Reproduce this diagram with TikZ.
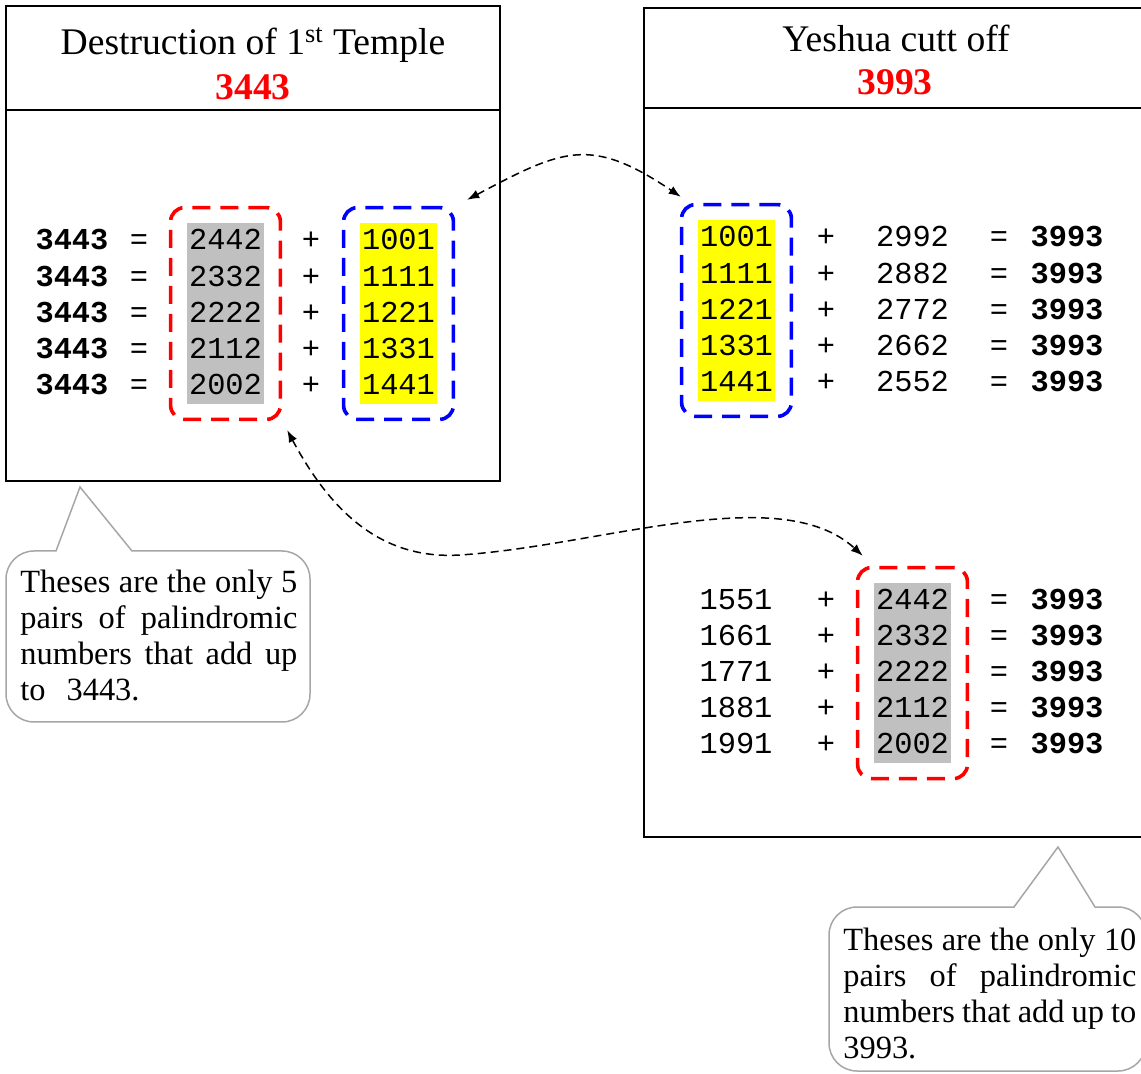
\documentclass[tikz,border=0pt]{standalone}
\usepackage{fontspec}
\setmainfont{Liberation Serif}
\setmonofont{Liberation Mono}
\usetikzlibrary{arrows.meta,fit}
\definecolor{hlgray}{HTML}{C0C0C0}
\definecolor{hlyellow}{HTML}{FFFF00}
\definecolor{calloutgray}{HTML}{A6A6A6}
\hyphenpenalty=10000
\tolerance=9999

\begin{document}
\begin{tikzpicture}[x=0.5pt,y=-0.5pt,
frame/.style={draw=black,line width=1pt},
head/.style={font=\fontsize{18.8}{22}\selectfont,anchor=base,inner sep=0pt},
headnum/.style={head,font=\fontsize{18.8}{22}\selectfont\bfseries,text=red},
num/.style={font=\ttfamily\fontsize{15.2}{18}\selectfont,anchor=base,inner sep=0pt},
total/.style={num,font=\ttfamily\bfseries\fontsize{15.2}{18}\selectfont},
hlg/.style={num,fill=hlgray,minimum width=38.5pt,text height=13.5pt,text depth=4.6pt},
hly/.style={num,fill=hlyellow,minimum width=38.5pt,text height=13.5pt,text depth=4.6pt},
redbox/.style={draw=red,line width=1.8pt,dash pattern=on 9pt off 5pt,
rounded corners=7pt,inner xsep=8pt,inner ysep=7.5pt},
bluebox/.style={redbox,draw=blue},
link/.style={{Latex[length=6pt,width=4.5pt]}-{Latex[length=6pt,width=4.5pt]},
line width=0.75pt,dash pattern=on 4pt off 2.5pt},
callout/.style={draw=calloutgray,line width=0.75pt},
note/.style={anchor=north west,inner sep=0pt,align=justify,
font=\fontsize{16.2}{18}\selectfont}
]
\useasboundingbox (0,0) rectangle (1141,1074);

% frames
\draw[frame] (6,6) rectangle (500,481);
\draw[frame] (6,110) -- (500,110);
\draw[frame] (644,8) rectangle (1147,837);
\draw[frame] (644,108) -- (1147,108);

\node[head] (lhead) at (253,55) {Destruction of 1\textsuperscript{st} Temple};
\node[headnum] (lnum) at (253,100) {3443};
\node[head] (rhead) at (896,52) {Yeshua cutt off};
\node[headnum] (rnum) at (895,95) {3993};

% left table
\foreach \g/\y [count=\i] in {2442/1001,2332/1111,2222/1221,2112/1331,2002/1441}{
  \node[total] (ls\i) at (72,{250+36.2*(\i-1)}) {3443};
  \node[num] (leq\i) at (139,{250+36.2*(\i-1)}) {=};
  \node[hlg] (lg\i) at (225.5,{250+36.2*(\i-1)}) {\g};
  \node[num] (lp\i) at (311,{250+36.2*(\i-1)}) {+};
  \node[hly] (ly\i) at (398.5,{250+36.2*(\i-1)}) {\y};
}
\node[redbox,fit=(lg1)(lg5)] (lred) {};
\node[bluebox,fit=(ly1)(ly5)] (lblue) {};

% right table, top
\foreach \y/\b [count=\i] in {1001/2992,1111/2882,1221/2772,1331/2662,1441/2552}{
  \node[hly] (ry\i) at (736.5,{247+36.2*(\i-1)}) {\y};
  \node[num] (rp\i) at (826,{247+36.2*(\i-1)}) {+};
  \node[num] (rb\i) at (912.5,{247+36.2*(\i-1)}) {\b};
  \node[num] (req\i) at (999,{247+36.2*(\i-1)}) {=};
  \node[total] (rs\i) at (1067,{247+36.2*(\i-1)}) {3993};
}
\node[bluebox,fit=(ry1)(ry5)] (rblue) {};

% right table, bottom
\foreach \a/\g [count=\i] in {1551/2442,1661/2332,1771/2222,1881/2112,1991/2002}{
  \node[num] (ra\i) at (736,{610+36*(\i-1)}) {\a};
  \node[num] (rq\i) at (826,{610+36*(\i-1)}) {+};
  \node[hlg] (rg\i) at (912.5,{610+36*(\i-1)}) {\g};
  \node[num] (re\i) at (999,{610+36*(\i-1)}) {=};
  \node[total] (rt\i) at (1067,{610+36*(\i-1)}) {3993};
}
\node[redbox,fit=(rg1)(rg5)] (rred) {};

% links
\draw[link] ([xshift=6pt,yshift=3pt]lblue.north east)
  to[out=28,in=146,looseness=1.3] ([xshift=0.5pt,yshift=3pt]rblue.north west);
\coordinate (dip) at (460,555);
\draw[link] ([xshift=2.5pt,yshift=-4.5pt]lred.south east)
  .. controls (330,510) and (380,560) .. (dip)
  .. controls (600,546) and (780,480) .. ([xshift=3.5pt,yshift=5pt]rred.north west);

% callouts
\draw[callout] (150,722) [rounded corners=14pt] -- (6,722) -- (6,551)
  [sharp corners] -- (56,551) -- (80,487) -- (132,551)
  [rounded corners=14pt] -- (310,551) -- (310,722) -- cycle;
\node[note,text width=138.5pt] (lnote) at (20,570)
  {Theses are the only 5 pairs of palindromic numbers that add up to\hspace{0.65em}3443.};
\draw[callout] (950,1071) [rounded corners=14pt] -- (829,1071) -- (829,907)
  [sharp corners] -- (1014,907) -- (1058,847) -- (1095,907)
  [rounded corners=14pt] -- (1146,907) -- (1146,1071) -- cycle;
\node[note,text width=146.5pt] (rnote) at (843,928)
  {Theses are the only 10 pairs of palindromic numbers that add up to 3993.};
\end{tikzpicture}
\end{document}
